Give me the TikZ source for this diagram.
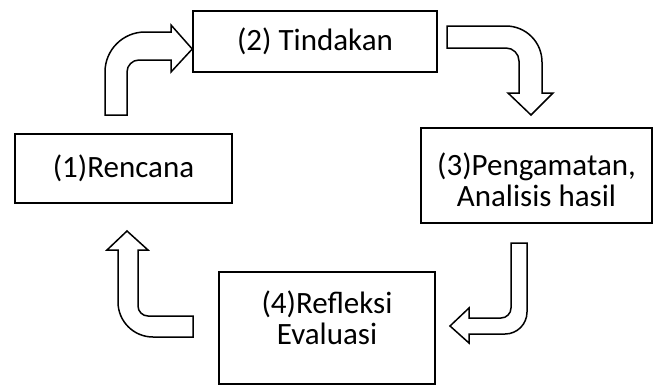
\documentclass[tikz,border=0pt]{standalone}
\usepackage{fontspec}
\setmainfont{Carlito}

\tikzset{
    stepbox/.style={draw, line width=1.5pt, inner sep=0pt},
    bentarrow/.style={draw, line width=1.5pt, fill=white, line join=miter}
}

\begin{document}
\begin{tikzpicture}[x=1pt, y=-1pt, font=\fontsize{31}{31}\selectfont]
    \useasboundingbox (0,0) rectangle (655,386);

    % Kotak siklus
    \node [stepbox, minimum width=217pt, minimum height=69pt, at={(123.5,168.5)}] (rencana) {(1)Rencana};
    \node [stepbox, minimum width=244pt, minimum height=61pt, at={(315,41.5)}] (tindakan) {(2) Tindakan};
    \node [stepbox, minimum width=231pt, minimum height=95pt, at={(536.5,175.5)}] (pengamatan) {};
    \node [align=center, at={([yshift=-4pt]pengamatan.center)}] (pengamatanteks) {(3)Pengamatan,\\Analisis hasil};
    \node [stepbox, minimum width=216pt, minimum height=112pt, at={(327,328)}] (refleksi) {};
    \node [align=center, at={([yshift=10pt]refleksi.center)}] (refleksiteks) {(4)Refleksi\\Evaluasi};

    % Panah (1) -> (2)
    \draw [bentarrow] (105,115) [rounded corners=40pt] -- (105,32) [sharp corners] -- (171,32) -- (171,25)
        -- (tindakan.west |- 0,49) -- (171,72) -- (171,60) [rounded corners=12pt] -- (127,60) [sharp corners] -- (127,115) -- cycle;

    % Panah (2) -> (3)
    \draw [bentarrow] (447,26) [rounded corners=36pt] -- (542,26) [sharp corners] -- (542,93) -- (553,93)
        -- (531,115) -- (508,93) -- (519,93) [rounded corners=13pt] -- (519,48) [sharp corners] -- (447,48) -- cycle;

    % Panah (3) -> (4)
    \draw [bentarrow] (511,243) -- (527,243) [rounded corners=22pt] -- (527,334) [sharp corners] -- (469,334) -- (469,343)
        -- (450,326) -- (469,308) -- (469,318) [rounded corners=10pt] -- (511,318) [sharp corners] -- cycle;

    % Panah (4) -> (1)
    \draw [bentarrow] (193,316) -- (193,337) [rounded corners=35pt] -- (118,337) [sharp corners] -- (118,250) -- (107,250)
        -- (127,231) -- (148,250) -- (138,250) [rounded corners=10pt] -- (138,316) [sharp corners] -- cycle;
\end{tikzpicture}
\end{document}
